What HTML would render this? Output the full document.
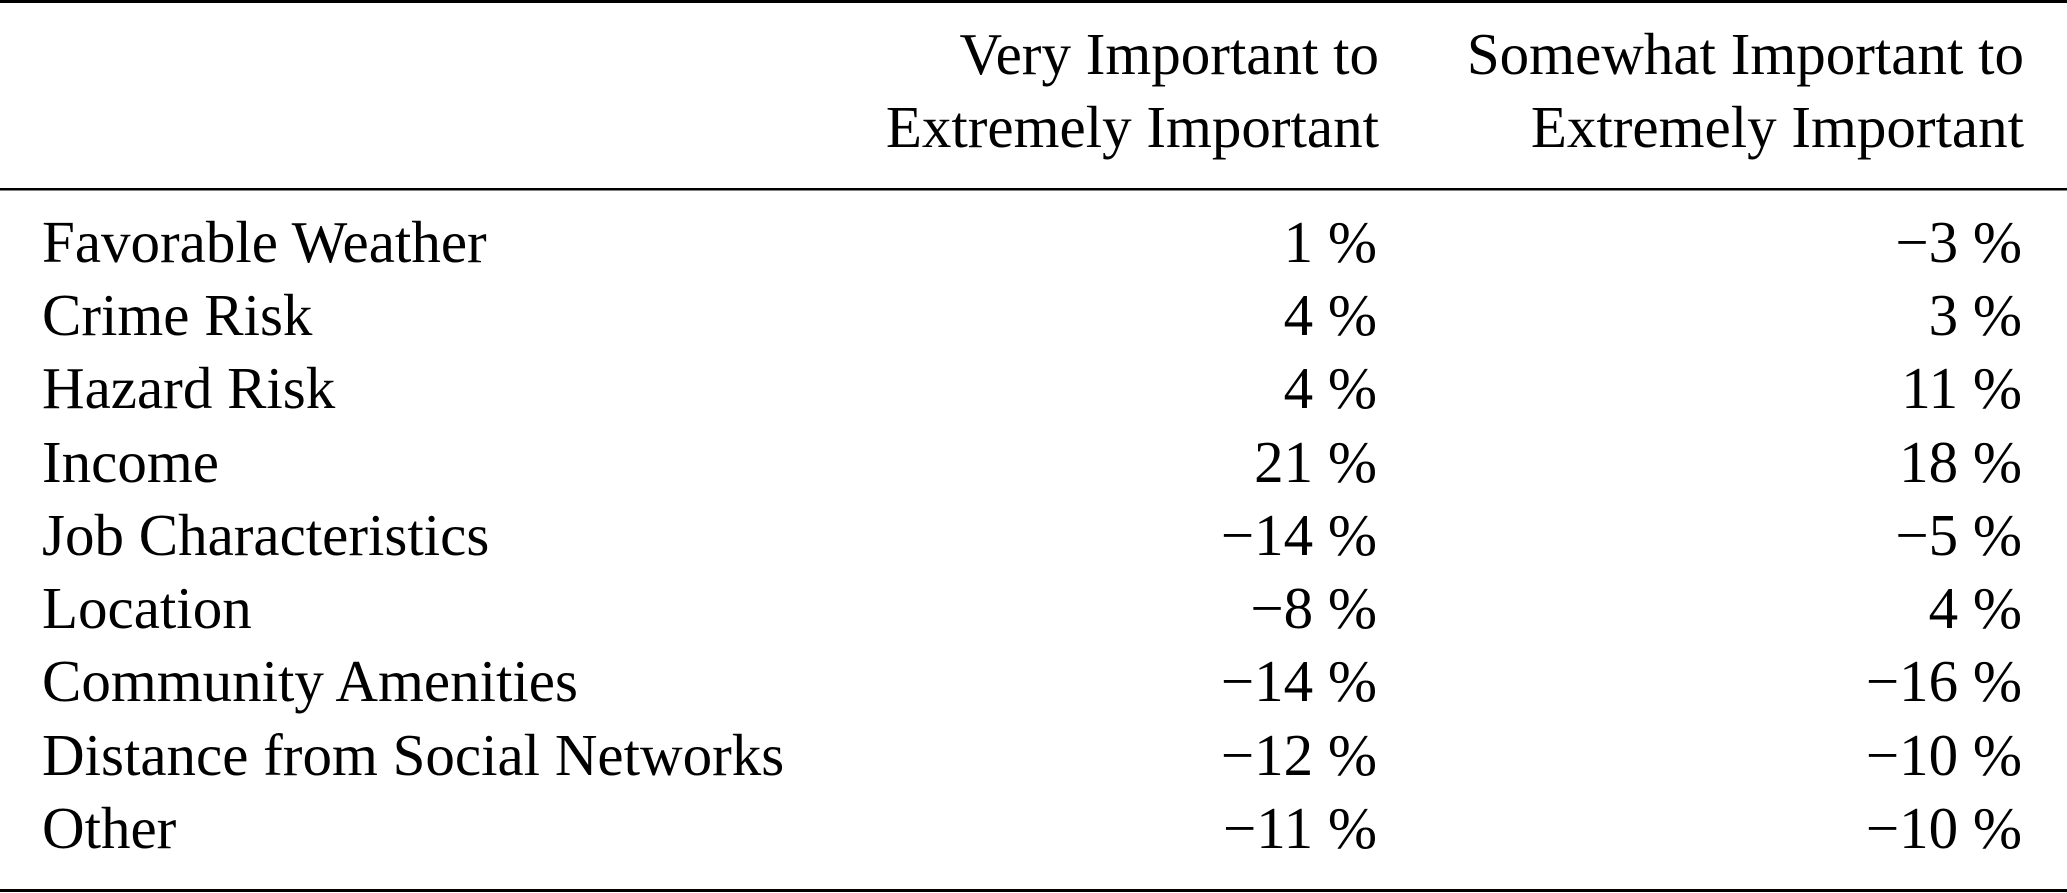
<!DOCTYPE html>
<html><head><meta charset="utf-8"><style>
html,body{margin:0;padding:0;background:#fff;}
svg{display:block;}
text{font-family:"Liberation Serif",serif;font-size:59px;fill:#000;}
</style></head><body>
<svg width="2067" height="893" viewBox="0 0 2067 893" xmlns="http://www.w3.org/2000/svg">
<rect x="0" y="0" width="2067" height="3" fill="#000"/>
<rect x="0" y="188" width="2067" height="2.5" fill="#000"/>
<rect x="0" y="889" width="2067" height="3" fill="#000"/>
<g text-anchor="end">
<text x="1379" y="74">Very Important to</text>
<text x="1379" y="147">Extremely Important</text>
<text x="2024" y="74">Somewhat Important to</text>
<text x="2024" y="147">Extremely Important</text>
</g>
<g>
<text x="42" y="262">Favorable Weather</text>
<text x="42" y="335">Crime Risk</text>
<text x="42" y="408">Hazard Risk</text>
<text x="42" y="482">Income</text>
<text x="42" y="555">Job Characteristics</text>
<text x="42" y="628">Location</text>
<text x="42" y="701">Community Amenities</text>
<text x="42" y="775">Distance from Social Networks</text>
<text x="42" y="848">Other</text>
</g>
<g text-anchor="end">
<text x="1377" y="262">1 %</text>
<text x="1377" y="335">4 %</text>
<text x="1377" y="408">4 %</text>
<text x="1377" y="482">21 %</text>
<text x="1377" y="555">−14 %</text>
<text x="1377" y="628">−8 %</text>
<text x="1377" y="701">−14 %</text>
<text x="1377" y="775">−12 %</text>
<text x="1377" y="848">−11 %</text>
<text x="2022" y="262">−3 %</text>
<text x="2022" y="335">3 %</text>
<text x="2022" y="408">11 %</text>
<text x="2022" y="482">18 %</text>
<text x="2022" y="555">−5 %</text>
<text x="2022" y="628">4 %</text>
<text x="2022" y="701">−16 %</text>
<text x="2022" y="775">−10 %</text>
<text x="2022" y="848">−10 %</text>
</g>
</svg>
</body></html>
